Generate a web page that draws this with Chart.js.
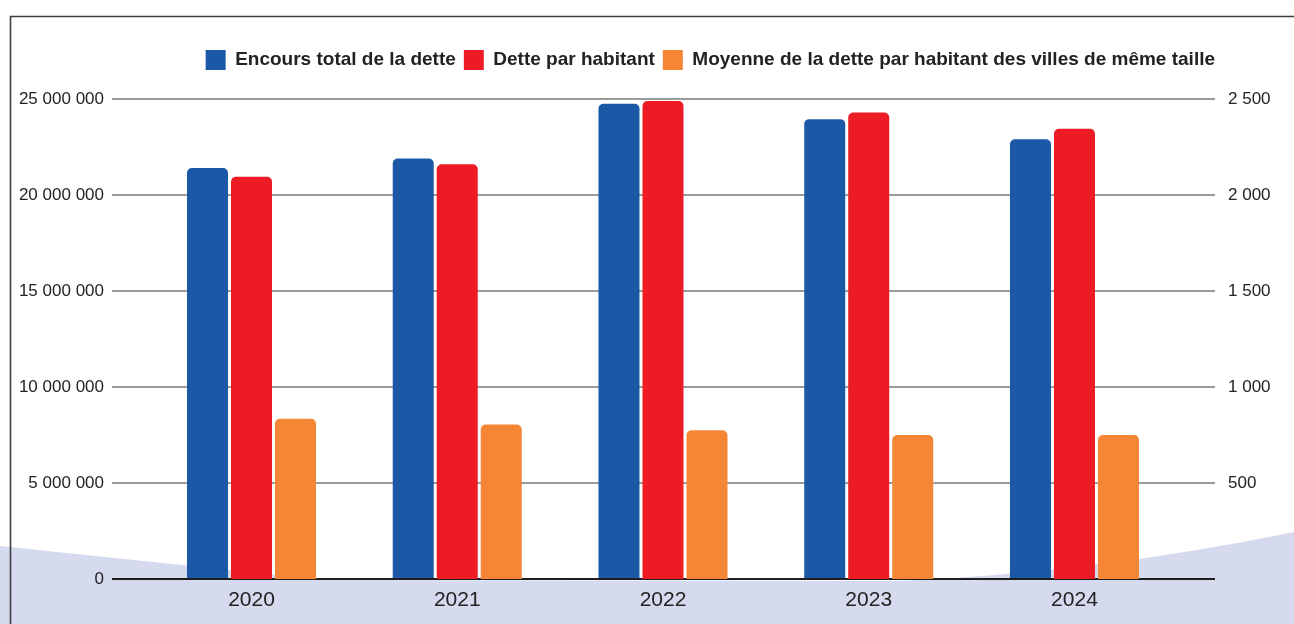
<!DOCTYPE html>
<html>
<head>
<meta charset="utf-8">
<script src="https://cdn.jsdelivr.net/npm/chart.js@4.4.0/dist/chart.umd.min.js"></script>
<style>
  html, body { margin: 0; padding: 0; background: #ffffff; }
  #wrap { width: 1294px; height: 624px; position: relative; }
</style>
</head>
<body>
<div id="wrap"><canvas id="c" width="1294" height="624"></canvas></div>
<script>
const years = ['2020', '2021', '2022', '2023', '2024'];
const encoursTotal = [21400000, 21900000, 24750000, 23950000, 22900000];
const detteParHabitant = [2095, 2160, 2490, 2430, 2345];
const moyenneStrate = [835, 805, 775, 750, 750];
const leftTicks = [0, 5000000, 10000000, 15000000, 20000000, 25000000];
const rightTicks = [0, 500, 1000, 1500, 2000, 2500];

const seriesNames = ['Encours total de la dette', 'Dette par habitant', 'Moyenne de la dette par habitant des villes de même taille'];
const seriesColors = ['#1b59a7', '#ed1c24', '#f58635'];

function fmt(v) {
  return String(Math.round(v)).replace(/\B(?=(\d{3})+(?!\d))/g, ' ');
}
function pts(arr) { return arr.map((v, i) => ({ x: i, y: v })); }

const backdrop = {
  id: 'backdrop',
  beforeDraw(chart) {
    const ctx = chart.ctx;
    ctx.save();
    ctx.fillStyle = '#d6daee';
    ctx.beginPath();
    ctx.moveTo(0, 546);
    ctx.quadraticCurveTo(190, 566, 330, 580);
    ctx.lineTo(900, 581);
    ctx.quadraticCurveTo(1100, 572, 1294, 532);
    ctx.lineTo(1294, 624);
    ctx.lineTo(0, 624);
    ctx.closePath();
    ctx.fill();
    ctx.strokeStyle = '#3d3d3d';
    ctx.lineWidth = 1.6;
    ctx.beginPath();
    ctx.moveTo(10.5, 624);
    ctx.lineTo(10.5, 16.5);
    ctx.lineTo(1294, 16.5);
    ctx.stroke();
    ctx.restore();
  }
};

const legendFit = {
  id: 'legendFit',
  beforeInit(chart) {
    const orig = chart.legend.fit;
    chart.legend.fit = function () {
      orig.bind(chart.legend)();
      this.height = 57;
    };
  },
  afterLayout(chart) {
    // align the legend's right end with the plot area's right edge
    chart.legend.right = chart.chartArea.right + 8;
  }
};

new Chart(document.getElementById('c'), {
  type: 'bar',
  data: {
    datasets: [
      { label: seriesNames[0], data: pts(encoursTotal), backgroundColor: seriesColors[0], yAxisID: 'y' },
      { label: seriesNames[1], data: pts(detteParHabitant), backgroundColor: seriesColors[1], yAxisID: 'y1' },
      { label: seriesNames[2], data: pts(moyenneStrate), backgroundColor: seriesColors[2], yAxisID: 'y1' }
    ]
  },
  plugins: [backdrop, legendFit],
  options: {
    responsive: false,
    animation: false,
    layout: { padding: { left: 18, right: 0, top: 42, bottom: 0 } },
    datasets: {
      bar: {
        categoryPercentage: 0.6416,
        barPercentage: 0.932,
        borderRadius: 5,
        borderWidth: 0
      }
    },
    plugins: {
      tooltip: { enabled: false },
      legend: {
        position: 'top',
        align: 'end',
        labels: {
          boxWidth: 20,
          boxHeight: 20,
          padding: 8,
          color: '#222222',
          font: { family: '"Liberation Sans", Arial, sans-serif', size: 19, weight: 'bold' }
        }
      }
    },
    scales: {
      x: {
        type: 'linear',
        offset: false,
        min: -0.678,
        max: 4.683,
        afterBuildTicks(scale) { scale.ticks = years.map((_, i) => ({ value: i })); },
        afterFit(scale) { scale.height = 45; },
        grid: { display: false, drawTicks: false, offset: false },
        border: { display: false },
        ticks: {
          padding: 9,
          color: '#222222',
          font: { family: '"Liberation Sans", Arial, sans-serif', size: 21 },
          callback: (v) => years[v] !== undefined ? years[v] : ''
        }
      },
      y: {
        position: 'left',
        min: 0,
        max: 25000000,
        afterBuildTicks(scale) { scale.ticks = leftTicks.map(v => ({ value: v })); },
        afterFit(scale) { scale.width = 94; },
        grid: {
          drawTicks: false,
          lineWidth: 2,
          color: (c) => c.tick && c.tick.value === 0 ? '#1e1e1e' : '#9b9b9b'
        },
        border: { display: false },
        ticks: {
          padding: 8,
          color: '#222222',
          font: { family: '"Liberation Sans", Arial, sans-serif', size: 17 },
          callback: (v) => fmt(v)
        }
      },
      y1: {
        position: 'right',
        min: 0,
        max: 2500,
        afterBuildTicks(scale) { scale.ticks = rightTicks.map(v => ({ value: v })); },
        afterFit(scale) { scale.width = 79; },
        grid: { display: false, drawTicks: false },
        border: { display: false },
        ticks: {
          padding: 13,
          color: '#222222',
          font: { family: '"Liberation Sans", Arial, sans-serif', size: 17 },
          callback: (v) => v === 0 ? '' : fmt(v)
        }
      }
    }
  }
});
</script>
</body>
</html>
